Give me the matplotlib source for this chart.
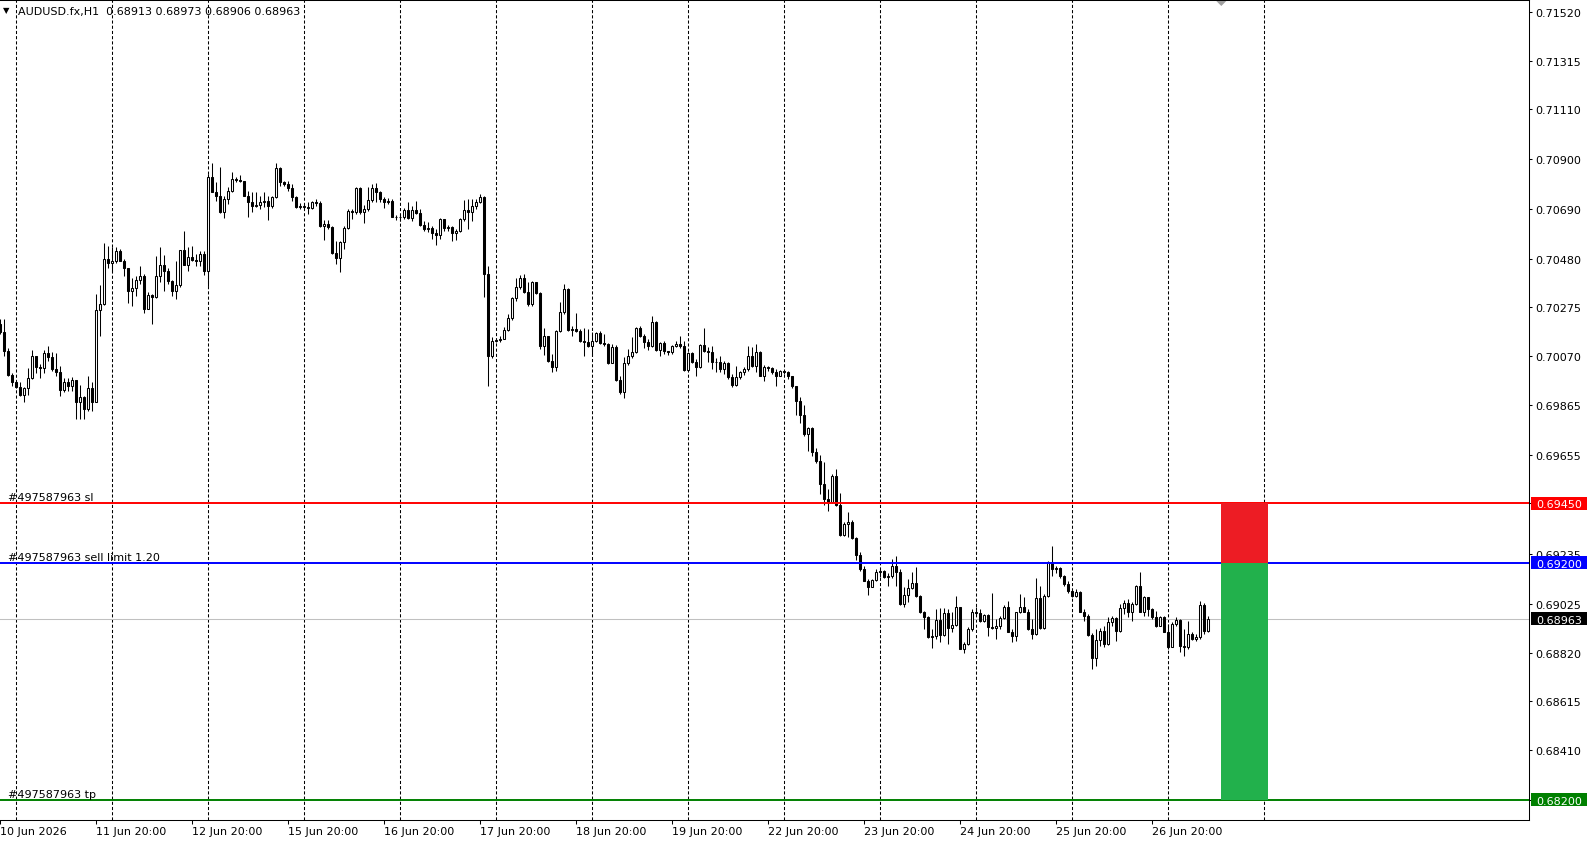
"""AUDUSD H1 chart with pending sell-limit order levels (MT4 look)."""

import numpy as np
import matplotlib
matplotlib.use("Agg")
import matplotlib.pyplot as plt
from matplotlib.patches import Rectangle, Polygon
from matplotlib.transforms import blended_transform_factory

# ─── data (prices in points, 1e-5) ───────────────────────────────────────────
SYMBOL = "AUDUSD.fx,H1"
FIRST_OPEN = 70205

CLOSE = [
    70172, 70092, 69991, 69962, 69941, 69907, 69934, 69976, 70069, 70025, 70018, 70085,
    70067, 70015, 70004, 69928, 69959, 69945, 69969, 69878, 69896, 69847, 69934, 69878,
    70264, 70289, 70479, 70463, 70469, 70514, 70471, 70443, 70345, 70356, 70390, 70406,
    70268, 70327, 70317, 70406, 70453, 70427, 70387, 70345, 70369, 70516, 70455, 70486,
    70476, 70471, 70500, 70429, 70823, 70762, 70745, 70675, 70731, 70764, 70816, 70813,
    70809, 70745, 70717, 70703, 70706, 70720, 70724, 70703, 70738, 70861, 70802, 70795,
    70776, 70741, 70696, 70702, 70700, 70692, 70720, 70715, 70619, 70626, 70615, 70503,
    70482, 70549, 70608, 70682, 70678, 70778, 70675, 70689, 70727, 70776, 70759, 70731,
    70717, 70723, 70657, 70657, 70654, 70686, 70650, 70686, 70672, 70622, 70605, 70609,
    70587, 70580, 70647, 70609, 70612, 70588, 70597, 70647, 70685, 70675, 70703, 70720,
    70738, 70415, 70072, 70135, 70139, 70142, 70180, 70229, 70313, 70360, 70399, 70339,
    70289, 70384, 70334, 70114, 70153, 70051, 70023, 70177, 70254, 70353, 70181, 70186,
    70174, 70135, 70128, 70111, 70135, 70167, 70125, 70121, 70041, 70107, 69971, 69920,
    70040, 70072, 70089, 70188, 70156, 70131, 70111, 70212, 70097, 70125, 70093, 70086,
    70114, 70121, 70111, 70013, 70083, 70047, 70023, 70118, 70093, 70086, 70044, 70044,
    70016, 70041, 69981, 69948, 69981, 70004, 70016, 70069, 70027, 70089, 69988, 70023,
    70019, 70002, 69988, 70006, 70002, 69985, 69943, 69882, 69823, 69742, 69766, 69665,
    69630, 69531, 69468, 69457, 69566, 69443, 69318, 69363, 69373, 69304, 69234, 69171,
    69124, 69099, 69128, 69159, 69166, 69141, 69145, 69185, 69162, 69026, 69064, 69092,
    69114, 69058, 68991, 68970, 68886, 68890, 68959, 68897, 68987, 68925, 68937, 69015,
    68838, 68857, 68920, 68990, 68987, 68955, 68979, 68930, 68923, 68934, 68965, 69011,
    68909, 68892, 68990, 69011, 68993, 68920, 68899, 69049, 68923, 69060, 69203, 69175,
    69177, 69144, 69109, 69081, 69060, 69078, 68993, 68976, 68895, 68800, 68873, 68913,
    68857, 68951, 68965, 68913, 69007, 69029, 68993, 69025, 69100, 68993, 69053, 69004,
    68969, 68934, 68969, 68909, 68843, 68941, 68959, 68850, 68843, 68899, 68878, 68888,
    69021, 68913, 68963,
]

HIGH = [
    70226, 70226, 70102, 69998, 69966, 69959, 69938, 70019, 70097, 70071, 70036, 70097,
    70113, 70088, 70085, 70029, 69979, 69979, 69980, 69970, 69948, 69903, 69987, 69959,
    70331, 70369, 70546, 70532, 70528, 70528, 70521, 70479, 70443, 70397, 70408, 70450,
    70415, 70341, 70331, 70493, 70528, 70495, 70442, 70390, 70471, 70516, 70598, 70528,
    70535, 70500, 70514, 70514, 70837, 70883, 70802, 70865, 70745, 70781, 70844, 70823,
    70832, 70809, 70767, 70759, 70762, 70745, 70759, 70745, 70745, 70883, 70865, 70809,
    70806, 70795, 70745, 70715, 70710, 70717, 70724, 70731, 70724, 70643, 70643, 70619,
    70556, 70556, 70619, 70689, 70689, 70781, 70781, 70706, 70781, 70795, 70797, 70766,
    70738, 70734, 70731, 70665, 70668, 70692, 70717, 70703, 70724, 70689, 70640, 70636,
    70619, 70605, 70650, 70647, 70622, 70619, 70605, 70651, 70728, 70731, 70731, 70731,
    70752, 70745, 70451, 70149, 70148, 70153, 70191, 70247, 70318, 70398, 70412, 70416,
    70381, 70388, 70384, 70339, 70187, 70156, 70079, 70180, 70299, 70374, 70355, 70198,
    70250, 70184, 70187, 70184, 70173, 70173, 70177, 70163, 70125, 70121, 70117, 69988,
    70065, 70100, 70149, 70191, 70198, 70163, 70142, 70237, 70219, 70131, 70135, 70093,
    70117, 70135, 70156, 70135, 70089, 70086, 70058, 70121, 70188, 70107, 70111, 70061,
    70069, 70051, 70044, 69995, 70027, 70009, 70023, 70114, 70107, 70121, 70093, 70033,
    70030, 70023, 70016, 70011, 70009, 70009, 69988, 69943, 69896, 69864, 69770, 69770,
    69683, 69654, 69623, 69510, 69573, 69595, 69493, 69370, 69412, 69380, 69307, 69244,
    69185, 69131, 69131, 69173, 69173, 69170, 69156, 69215, 69227, 69173, 69096, 69131,
    69159, 69180, 69064, 68998, 68977, 68921, 69005, 69008, 69008, 69005, 68991, 69061,
    69015, 68864, 68927, 69004, 69011, 69004, 68983, 68983, 69071, 68962, 68973, 69021,
    69039, 68920, 68993, 69067, 69053, 69004, 68962, 69137, 69102, 69067, 69208, 69271,
    69184, 69180, 69147, 69123, 69088, 69088, 69081, 69004, 68983, 68902, 68920, 68923,
    68934, 68969, 68973, 68969, 69025, 69043, 69046, 69032, 69105, 69161, 69060, 69056,
    69007, 68997, 68973, 68973, 68941, 68948, 68969, 68962, 68920, 68955, 68906, 68899,
    69039, 69030, 68973,
]

LOW = [
    70163, 70071, 69987, 69942, 69934, 69900, 69878, 69906, 69973, 69997, 69976, 69997,
    70050, 70005, 69984, 69903, 69920, 69924, 69921, 69805, 69805, 69805, 69840, 69840,
    69875, 70156, 70286, 70443, 70422, 70464, 70470, 70408, 70292, 70282, 70324, 70373,
    70250, 70268, 70205, 70314, 70380, 70342, 70373, 70321, 70310, 70359, 70455, 70429,
    70471, 70450, 70450, 70411, 70365, 70759, 70724, 70672, 70650, 70710, 70759, 70802,
    70802, 70745, 70654, 70675, 70696, 70689, 70696, 70643, 70692, 70734, 70788, 70785,
    70767, 70724, 70692, 70689, 70689, 70668, 70689, 70703, 70612, 70559, 70605, 70500,
    70458, 70423, 70521, 70605, 70647, 70668, 70668, 70630, 70682, 70720, 70717, 70720,
    70692, 70710, 70654, 70644, 70640, 70647, 70647, 70637, 70668, 70619, 70598, 70591,
    70563, 70538, 70563, 70598, 70598, 70556, 70560, 70591, 70640, 70605, 70640, 70689,
    70714, 70318, 69945, 70061, 70128, 70128, 70142, 70174, 70224, 70303, 70353, 70334,
    70282, 70280, 70332, 70100, 70075, 70047, 70004, 70009, 70173, 70247, 70177, 70153,
    70170, 70131, 70072, 70107, 70069, 70128, 70121, 70114, 70037, 70041, 69967, 69910,
    69892, 70034, 70061, 70083, 70149, 70103, 70097, 70107, 70093, 70072, 70079, 70075,
    70079, 70107, 70103, 70009, 70009, 70041, 69988, 70018, 70089, 70044, 70016, 70002,
    70002, 69995, 69974, 69938, 69945, 69974, 69990, 70009, 70023, 70002, 69985, 69967,
    70009, 69995, 69946, 69985, 69995, 69973, 69934, 69822, 69788, 69735, 69672, 69651,
    69620, 69489, 69443, 69419, 69451, 69440, 69314, 69311, 69307, 69300, 69209, 69166,
    69121, 69065, 69096, 69124, 69138, 69134, 69100, 69134, 69103, 69022, 69012, 69036,
    69089, 69054, 68987, 68921, 68881, 68839, 68879, 68867, 68890, 68857, 68909, 68932,
    68836, 68819, 68853, 68913, 68976, 68951, 68948, 68892, 68920, 68878, 68920, 68962,
    68906, 68867, 68871, 68987, 68990, 68917, 68878, 68895, 68920, 68920, 69053, 69142,
    69158, 69137, 69102, 69074, 69053, 69056, 68990, 68955, 68892, 68751, 68765, 68850,
    68843, 68852, 68934, 68871, 68906, 68983, 68969, 68955, 69021, 68990, 68976, 68973,
    68962, 68927, 68931, 68906, 68836, 68847, 68931, 68824, 68805, 68838, 68875, 68871,
    68880, 68900, 68906,
]

TIME_LABELS = [
    "10 Jun 2026", "11 Jun 20:00", "12 Jun 20:00", "15 Jun 20:00", "16 Jun 20:00",
    "17 Jun 20:00", "18 Jun 20:00", "19 Jun 20:00", "22 Jun 20:00", "23 Jun 20:00",
    "24 Jun 20:00", "25 Jun 20:00", "26 Jun 20:00",
]

PRICE_TICKS = [
    0.71520, 0.71315, 0.71110, 0.70900, 0.70690, 0.70480, 0.70275, 0.70070, 0.69865,
    0.69655, 0.69450, 0.69235, 0.69025, 0.68820, 0.68615, 0.68410, 0.68200,
]

ORDER_ID = "#497587963"
ORDER_LOTS = "1.20"
SL_PRICE = 0.69450
ENTRY_PRICE = 0.69200
TP_PRICE = 0.68200

# ─── layout (pixels) ─────────────────────────────────────────────────────────
W, H, DPI = 1591, 845, 100
PLOT_RIGHT = 1529.3
PLOT_TOP = 1.0
PLOT_BOTTOM = 821.0
Y_TOP, Y_BOTTOM = 0.7156985, 0.6811575
BAR_PX = 4.0
BAR0_PX = 0.3
BARS_PER_DAY = 24
GRID_OFFSET = 4
BOX_FROM, BOX_TO = 305.25, 316.85

COLOR_SL = "#FF0000"
COLOR_ENTRY = "#0000FF"
COLOR_TP = "#008000"
COLOR_BID = "#C0C0C0"
LW = 0.75

plt.rcParams['font.family'] = 'DejaVu Sans'


def main() -> None:
    close = np.array(CLOSE) / 1e5
    high = np.array(HIGH) / 1e5
    low = np.array(LOW) / 1e5
    open_ = np.concatenate([[FIRST_OPEN / 1e5], close[:-1]])
    idx = np.arange(len(close))
    up = close >= open_

    fig = plt.figure(figsize=(W / DPI, H / DPI), dpi=DPI)
    ax = fig.add_axes([0, 1 - PLOT_BOTTOM / H, PLOT_RIGHT / W, (PLOT_BOTTOM - PLOT_TOP) / H])
    ax.set_xlim(-BAR0_PX / BAR_PX, (PLOT_RIGHT - BAR0_PX) / BAR_PX)
    ax.set_ylim(Y_BOTTOM, Y_TOP)
    px = (Y_TOP - Y_BOTTOM) / (PLOT_BOTTOM - PLOT_TOP)

    # vertical dashed grid
    for j in range(len(TIME_LABELS) + 1):
        ax.axvline(GRID_OFFSET + BARS_PER_DAY * j, color='black', lw=LW,
                   ls=(0, (3, 2)), zorder=1)

    # bid line
    ax.axhline(close[-1], color=COLOR_BID, lw=LW, zorder=1.5)

    # candles
    lo = np.minimum(low, np.minimum(open_, close))
    hi = np.maximum(high, np.maximum(open_, close))
    ax.vlines(idx, lo, hi, colors='black', lw=LW, zorder=2)
    ax.bar(idx, np.abs(close - open_), bottom=np.minimum(open_, close), width=0.55,
           color=np.where(up, 'white', 'black'), edgecolor='black', linewidth=LW, zorder=3)

    # order levels
    tr_lbl = blended_transform_factory(ax.transAxes, ax.transData)
    levels = [
        (SL_PRICE, COLOR_SL, f"{ORDER_ID} sl"),
        (ENTRY_PRICE, COLOR_ENTRY, f"{ORDER_ID} sell limit {ORDER_LOTS}"),
        (TP_PRICE, COLOR_TP, f"{ORDER_ID} tp"),
    ]
    for price, color, label in levels:
        ax.axhline(price, color=color, lw=1.4, zorder=4)
        ax.text(8 / PLOT_RIGHT, price + 3 * px, label, transform=tr_lbl,
                fontsize=8, ha='left', va='baseline', zorder=5)

    # risk / reward boxes
    ax.add_patch(Rectangle((BOX_FROM, ENTRY_PRICE), BOX_TO - BOX_FROM, SL_PRICE - ENTRY_PRICE,
                           fc='#ED1C24', ec='none', zorder=6))
    ax.add_patch(Rectangle((BOX_FROM, TP_PRICE), BOX_TO - BOX_FROM, ENTRY_PRICE - TP_PRICE,
                           fc='#22B14C', ec='none', zorder=6))

    # axes
    for side in ('top', 'right', 'bottom'):
        ax.spines[side].set_linewidth(LW)
        ax.spines[side].set_color('black')
    ax.spines['left'].set_visible(False)
    ax.yaxis.tick_right()
    ax.set_yticks(PRICE_TICKS)
    ax.set_yticklabels([f"{p:.5f}" for p in PRICE_TICKS])
    ax.tick_params(axis='y', direction='out', length=2.5, width=LW, pad=1.5, labelsize=8)
    ax.set_xticks(np.arange(len(TIME_LABELS)) * BARS_PER_DAY)
    ax.set_xticklabels(TIME_LABELS)
    ax.tick_params(axis='x', direction='out', length=3, width=LW, pad=1.5, labelsize=8)
    for lbl in ax.get_xticklabels():
        lbl.set_horizontalalignment('left')

    # price tags on the right scale
    tr_tag = blended_transform_factory(fig.transFigure, ax.transData)
    tags = [(SL_PRICE, COLOR_SL), (ENTRY_PRICE, COLOR_ENTRY),
            (close[-1], 'black'), (TP_PRICE, COLOR_TP)]
    for price, color in tags:
        ax.add_patch(Rectangle((1531 / W, price - 6.5 * px), 56 / W, 13 * px, transform=tr_tag,
                               fc=color, ec='none', clip_on=False, zorder=7))
        ax.text(1536 / W, price, f"{price:.5f}", transform=tr_tag, color='white',
                fontsize=8, ha='left', va='center_baseline', clip_on=False, zorder=8)

    # header
    fig.text(3 / W, 1 - 11 / H, "\u25bc", fontsize=6, va='center', ha='left')
    fig.text(18 / W, 1 - 12 / H,
             f"{SYMBOL}  {open_[-1]:.5f} {high[-1]:.5f} {low[-1]:.5f} {close[-1]:.5f}",
             fontsize=8, va='center', ha='left')

    # chart-shift marker
    xc = (BAR0_PX + BOX_FROM * BAR_PX) / W
    fig.add_artist(Polygon([(xc - 5 / W, 1 - 2 / H), (xc + 5 / W, 1 - 2 / H), (xc, 1 - 7 / H)],
                           closed=True, transform=fig.transFigure, fc='#A0A0A0', ec='none'))

    fig.savefig('out.png', dpi=DPI)
    plt.close(fig)


if __name__ == "__main__":
    main()
